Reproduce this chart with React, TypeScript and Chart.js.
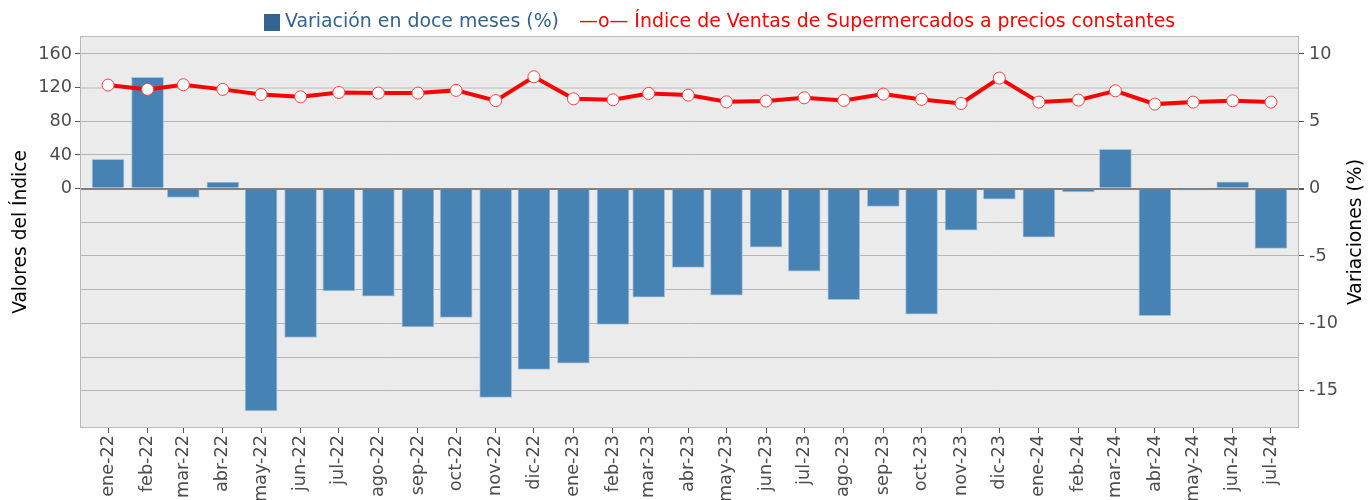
import React, { useEffect, useRef } from 'react';
import { Chart, registerables } from 'chart.js';

Chart.register(...registerables);

const months: string[] = [
  'ene-22', 'feb-22', 'mar-22', 'abr-22', 'may-22', 'jun-22', 'jul-22', 'ago-22', 'sep-22', 'oct-22', 'nov-22', 'dic-22',
  'ene-23', 'feb-23', 'mar-23', 'abr-23', 'may-23', 'jun-23', 'jul-23', 'ago-23', 'sep-23', 'oct-23', 'nov-23', 'dic-23',
  'ene-24', 'feb-24', 'mar-24', 'abr-24', 'may-24', 'jun-24', 'jul-24',
];

// Variación en doce meses (%) — right axis
const variacion: number[] = [
  2.17, 8.26, -0.66, 0.48, -16.5, -11.05, -7.59, -7.98, -10.26, -9.56, -15.5, -13.42,
  -12.95, -10.08, -8.05, -5.85, -7.91, -4.34, -6.12, -8.25, -1.32, -9.32, -3.08, -0.78,
  -3.6, -0.24, 2.91, -9.44, -0.1, 0.5, -4.44,
];

// Índice de Ventas de Supermercados a precios constantes — left axis
const indice: number[] = [
  123.0, 117.9, 123.4, 117.9, 111.9, 109.1, 114.3, 113.5, 113.5, 116.7, 104.6, 132.9,
  106.7, 105.5, 113.1, 111.1, 103.1, 104.0, 107.9, 104.8, 112.3, 106.0, 101.2, 131.3,
  102.8, 105.2, 116.2, 100.4, 102.8, 104.3, 102.8,
];

const leftTickValues: number[] = [0, 40, 80, 120, 160];
const rightTickValues: number[] = [-15, -12.5, -10, -7.5, -5, -2.5, 0, 2.5, 5, 7.5, 10];

const legendBarLabel = 'Variación en doce meses (%)';
const legendLineLabel = '—o— Índice de Ventas de Supermercados a precios constantes';
const leftTitle = 'Valores del Índice';
const rightTitle = 'Variaciones (%)';

const FONT = '"DejaVu Sans", sans-serif';

// day offsets (since 2022-01-01) for each month label
const dayOffsets: number[] = months.map((_, i) => (Date.UTC(2022, i, 1) - Date.UTC(2022, 0, 1)) / 86400000);

export default function App() {
  const ref = useRef<HTMLCanvasElement | null>(null);

  useEffect(() => {
    document.body.style.margin = '0';
    const canvas = ref.current;
    if (!canvas) return;

    const decor = {
      id: 'decor',
      beforeDraw(chart: any) {
        const { ctx, chartArea } = chart;
        ctx.save();
        ctx.fillStyle = '#ffffff';
        ctx.fillRect(0, 0, chart.width, chart.height);
        ctx.fillStyle = '#ebebeb';
        ctx.fillRect(chartArea.left, chartArea.top, chartArea.right - chartArea.left, chartArea.bottom - chartArea.top);
        ctx.restore();
      },
      afterDraw(chart: any) {
        const { ctx, chartArea } = chart;
        ctx.save();
        ctx.strokeStyle = '#b8b8b8';
        ctx.lineWidth = 1;
        ctx.strokeRect(chartArea.left + 0.5, chartArea.top + 0.5, chartArea.right - chartArea.left - 1, chartArea.bottom - chartArea.top - 1);

        // legend
        ctx.font = `18.9px ${FONT}`;
        ctx.textBaseline = 'middle';
        ctx.textAlign = 'left';
        ctx.fillStyle = '#35638f';
        ctx.fillRect(264, 14, 16, 17);
        ctx.fillText(legendBarLabel, 285, 22.5);
        ctx.fillStyle = '#ff0000';
        ctx.fillText(legendLineLabel, 579, 22.5);

        // right axis title (reads bottom-to-top)
        ctx.font = `18.8px ${FONT}`;
        ctx.fillStyle = '#000000';
        ctx.textAlign = 'center';
        ctx.translate(1356, (chartArea.top + chartArea.bottom) / 2);
        ctx.rotate(-Math.PI / 2);
        ctx.fillText(rightTitle, 0, 0);
        ctx.restore();
      },
    };

    const chart = new Chart(canvas, {
      type: 'bar',
      data: {
        datasets: [
          {
            type: 'line',
            label: legendLineLabel,
            data: dayOffsets.map((d, i) => ({ x: d, y: indice[i] })),
            yAxisID: 'yL',
            xAxisID: 'x',
            borderColor: '#ff0000',
            borderWidth: 4,
            pointRadius: 6,
            pointBackgroundColor: '#ffffff',
            pointBorderColor: '#ff4040',
            pointBorderWidth: 1,
            tension: 0,
            order: 0,
          } as any,
          {
            type: 'bar',
            label: legendBarLabel,
            data: dayOffsets.map((d, i) => ({ x: d, y: variacion[i] })),
            yAxisID: 'y',
            xAxisID: 'x',
            backgroundColor: '#4682b4',
            borderColor: '#a7c3dc',
            borderWidth: 1,
            barThickness: 32,
            order: 1,
          } as any,
        ],
      },
      options: {
        responsive: false,
        animation: false,
        devicePixelRatio: 1,
        layout: { padding: { top: 36, left: 0, right: 0, bottom: 0 } },
        plugins: {
          legend: { display: false },
          tooltip: { enabled: false },
        },
        scales: {
          x: {
            type: 'linear',
            position: 'bottom',
            min: -22,
            max: 934,
            offset: false,
            border: { display: false },
            grid: { display: true, drawOnChartArea: false, drawTicks: true, tickLength: 5, color: '#555555', offset: false },
            afterBuildTicks: (axis: any) => {
              axis.ticks = dayOffsets.map((v) => ({ value: v }));
            },
            afterFit: (axis: any) => {
              axis.height = 72;
            },
            ticks: {
              autoSkip: false,
              minRotation: 90,
              maxRotation: 90,
              padding: 2,
              color: '#4d4d4d',
              font: { family: FONT, size: 17.7 },
              callback: (_v: any, i: number) => months[i],
            },
          },
          yL: {
            type: 'linear',
            position: 'left',
            min: -284.3,
            max: 181.3,
            border: { display: false },
            grid: { display: true, drawOnChartArea: false, drawTicks: true, tickLength: 5, color: '#555555' },
            afterBuildTicks: (axis: any) => {
              axis.ticks = leftTickValues.map((v) => ({ value: v }));
            },
            afterFit: (axis: any) => {
              axis.width = 80;
            },
            ticks: {
              padding: 3,
              color: '#4d4d4d',
              font: { family: FONT, size: 17.7 },
              callback: (v: any) => String(v),
            },
            title: {
              display: true,
              text: leftTitle,
              color: '#000000',
              font: { family: FONT, size: 18.6 },
              padding: { top: 10, bottom: 0 },
            },
          },
          y: {
            type: 'linear',
            position: 'right',
            min: -17.77,
            max: 11.33,
            border: { display: false },
            grid: {
              display: true,
              drawOnChartArea: true,
              drawTicks: true,
              tickLength: 5,
              color: (ctx: any) => {
                const v = ctx.tick ? ctx.tick.value : null;
                if (v === 0) return '#808080';
                if (v === 7.5) return '#d2d2d2';
                return '#b5b5b5';
              },
              lineWidth: (ctx: any) => {
                const v = ctx.tick ? ctx.tick.value : null;
                if (v === 0 || v === 7.5) return 2;
                return 1;
              },
              tickColor: (ctx: any) => {
                const v = ctx.tick ? ctx.tick.value : null;
                return v !== null && v % 5 === 0 ? '#555555' : 'rgba(0,0,0,0)';
              },
            },
            afterBuildTicks: (axis: any) => {
              axis.ticks = rightTickValues.map((v) => ({ value: v }));
            },
            afterFit: (axis: any) => {
              axis.width = 73;
            },
            ticks: {
              padding: 5,
              color: '#4d4d4d',
              font: { family: FONT, size: 17.7 },
              callback: (v: any) => (v % 5 === 0 ? String(v) : ''),
            },
          },
        },
      } as any,
      plugins: [decor],
    });

    return () => {
      chart.destroy();
    };
  }, []);

  return (
    <div style={{ position: 'absolute', left: 0, top: 0, width: 1372, height: 500 }}>
      <canvas ref={ref} width={1372} height={500} style={{ display: 'block' }} />
    </div>
  );
}
